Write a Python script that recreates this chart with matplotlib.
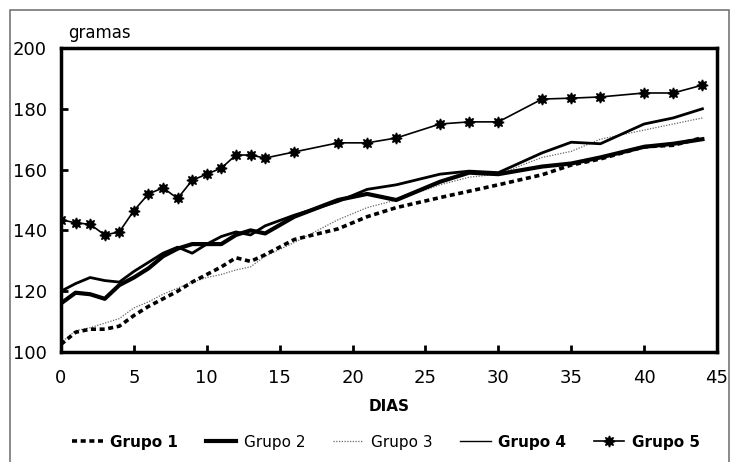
#recreate the growth chart (gramas vs DIAS) for five groups

#import matplotlib
import matplotlib
matplotlib.use("Agg")
import matplotlib.pyplot as plt
from matplotlib.patches import Rectangle

#days where the values were read
dias = [0, 1, 2, 3, 4, 5, 6, 7, 8, 9, 10, 11, 12, 13, 14, 16, 19, 21, 23, 26, 28, 30, 33, 35, 37, 40, 42, 44]

#weights in gramas, one list per group
grupo1 = [102.5, 106.5, 107.5, 107.5, 108.5, 112, 115, 117.5, 120, 123, 125.5, 128, 131, 129.8, 132,
          137, 140.5, 144.5, 147.5, 150.8, 152.9, 155, 158.3, 161.5, 163.5, 167.5, 168, 170.5]
grupo2 = [116, 119.5, 119, 117.5, 122, 124.5, 127.5, 131.5, 134, 135.5, 135.5, 135.5, 138.5, 140, 139,
          144.5, 150, 152, 150, 156, 159, 158.5, 161, 162, 164, 167.5, 168.5, 170]
grupo3 = [103, 107, 108, 109.5, 111, 114.5, 116.5, 119, 121, 123, 124.5, 125.5, 127, 128, 131.5,
          136, 143.5, 147.5, 150, 155, 157.5, 158.5, 164, 166, 170, 173, 175, 177]
grupo4 = [120, 122.5, 124.5, 123.5, 123, 126.5, 129.5, 132.5, 134.5, 132.5, 135.5, 138, 139.5, 138.5, 141.5,
          145, 149.5, 153.5, 155, 158.5, 159.5, 159, 165.5, 169, 168.5, 175, 177, 180]
grupo5 = [143.5, 142.5, 142, 138.5, 139.5, 146.5, 152, 154, 150.5, 156.5, 158.5, 160.5, 164.8, 164.8, 163.8,
          165.8, 168.8, 168.8, 170.4, 175, 175.7, 175.7, 183.2, 183.5, 183.9, 185.2, 185.2, 187.8]

#axis ticks
xticks = [0, 5, 10, 15, 20, 25, 30, 35, 40, 45]
yticks = [100, 120, 140, 160, 180, 200]

fig = plt.figure(figsize=(7.31, 4.62), dpi=100)
ax = fig.add_axes([61 / 731, 1 - 352 / 462, (717 - 61) / 731, (352 - 48) / 462])

#draw the five groups
ax.plot(dias, grupo3, color="#666666", lw=0.9, dashes=(1, 1.2), label="Grupo 3")
ax.plot(dias, grupo4, color="black", lw=2.0, label="Grupo 4")
ax.plot(dias, grupo2, color="black", lw=3.0, label="Grupo 2")
ax.plot(dias, grupo1, color="black", lw=2.6, dashes=(1.4, 1.0), label="Grupo 1")
ax.plot(dias, grupo5, color="black", lw=1.2, marker=(8, 1, 0), markersize=8, label="Grupo 5")

ax.set_xlim(0, 45)
ax.set_ylim(100, 200)
ax.set_xticks(xticks)
ax.set_yticks(yticks)
ax.tick_params(direction="in", length=5, width=2, labelsize=13)
ax.tick_params(axis="x", pad=12)
ax.tick_params(axis="y", pad=10)
for s in ax.spines.values():
    s.set_linewidth(2.5)

ax.set_xlabel("DIAS", fontsize=11, fontweight="bold", labelpad=9)
fig.text(68 / 731, 1 - 33 / 462, "gramas", fontsize=12, va="center")

#legend in the order 1..5, with the bold / normal mix of the original
handles, labels = ax.get_legend_handles_labels()
order = [labels.index("Grupo %d" % i) for i in range(1, 6)]
handles = [handles[i] for i in order]
labels = [labels[i] for i in order]
handles[3] = plt.Line2D([], [], color="black", lw=1.0)
leg = fig.legend(handles, labels, loc="center", bbox_to_anchor=(0.528, 0.043), ncol=5,
                 frameon=False, fontsize=11, handlelength=2.0, handletextpad=0.5,
                 columnspacing=1.8)
for t, w in zip(leg.get_texts(), ["bold", "normal", "normal", "bold", "bold"]):
    t.set_fontweight(w)

#grey outer frame of the scanned page
fig.patches.append(Rectangle((10 / 731, -0.1), (729 - 10) / 731, 1.1 - 10 / 462,
                             transform=fig.transFigure, fill=False, edgecolor="#777777", lw=1.2))

fig.savefig("out.png", dpi=100)
